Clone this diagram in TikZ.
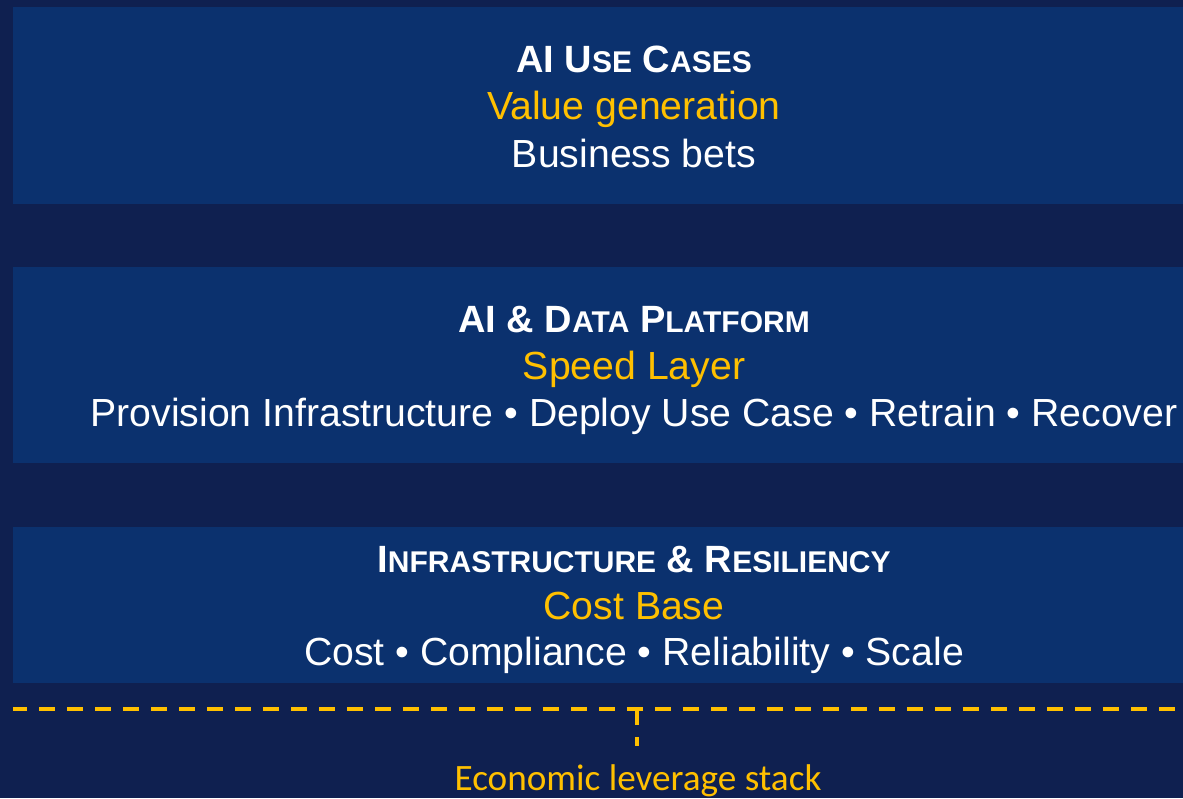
\documentclass[tikz,border=0pt]{standalone}
\usepackage{fontspec}
\setmainfont{Liberation Sans}
\newfontfamily\calibrifont{Carlito}
\definecolor{navybg}{HTML}{0F2050}
\definecolor{layerblue}{HTML}{0B316E}
\definecolor{gold}{HTML}{FFC000}
\newcommand{\smcap}[1]{{\fontsize{30}{30}\selectfont #1}}
\tikzset{
  layer/.style={fill=layerblue, draw=none, minimum width=1242, inner sep=0pt},
  heading/.style={anchor=base, text=white, font=\fontsize{38}{38}\selectfont\bfseries},
  subline/.style={anchor=base, text=gold, font=\fontsize{39.2}{39.2}\selectfont},
  detail/.style={anchor=base, text=white, font=\fontsize{39.2}{39.2}\selectfont},
  leverline/.style={gold, line width=4pt, dash pattern=on 16pt off 12pt},
}
\begin{document}
\begin{tikzpicture}[x=1pt, y=-1pt]
    \useasboundingbox (0,0) rectangle (1183,798);
    \fill[navybg] (0,0) rectangle (1183,798);

    % Draw layers
    \node[layer, minimum height=197] (usecases) at (634,105.5) {};
    \node[layer, minimum height=196] (platform) at (634,365) {};
    \node[layer, minimum height=156] (infra) at (634,605) {};

    % Draw texts of each layer
    \node[heading] (ucTitle) at (634,72) {AI U\smcap{SE} C\smcap{ASES}};
    \node[subline] (ucValue) at (634,119) {Value generation};
    \node[detail] (ucBets) at (634,167) {Business bets};

    \node[heading] (pfTitle) at (634,332) {AI \& D\smcap{ATA} P\smcap{LATFORM}};
    \node[subline] (pfSpeed) at (634,379) {Speed Layer};
    \node[detail] (pfSteps) at (634,426) {Provision Infrastructure • Deploy Use Case • Retrain • Recover};

    \node[heading] (irTitle) at (634,572) {I\smcap{NFRASTRUCTURE} \& R\smcap{ESILIENCY}};
    \node[subline] (irCost) at (634,619) {Cost Base};
    \node[detail] (irItems) at (634,665) {Cost • Compliance • Reliability • Scale};

    % Draw leverage line
    \coordinate (dashL) at (13,709);
    \coordinate (dashR) at (1183,709);
    \coordinate (tick) at (637,709);
    \coordinate (tickEnd) at (637,746);
    \node[anchor=base, text=gold, font=\calibrifont\fontsize{37.2}{37.2}\selectfont] (stack) at (638,790) {Economic leverage stack};

    \draw[leverline, dash phase=2pt] (dashL) -- (dashR);
    \draw[leverline] (tick) -- (tickEnd);
\end{tikzpicture}
\end{document}
